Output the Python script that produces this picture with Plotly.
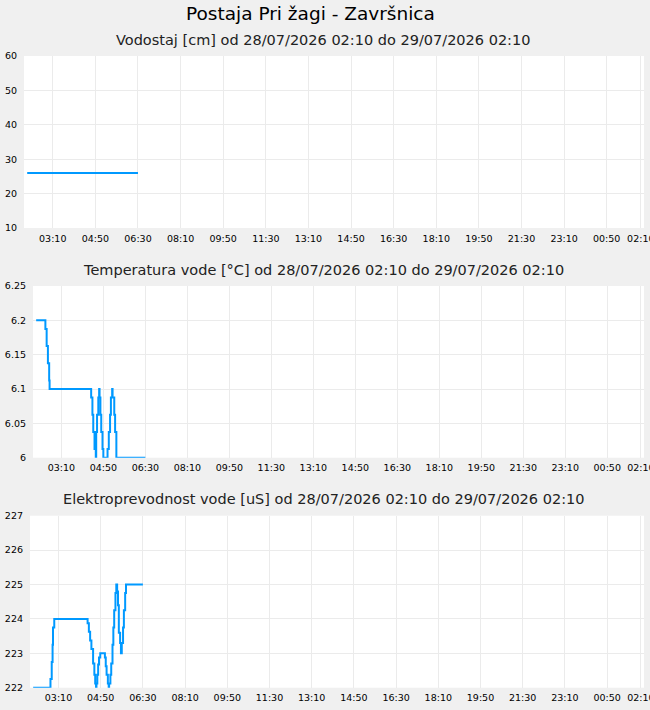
import plotly.graph_objects as go
import pandas as pd

DAY = "2026-07-28 "

# --- Vodostaj [cm]
level_times = ["02:10", "06:30"]
level_values = [26, 26]

# --- Temperatura vode [°C]
temp_times = ["02:10", "02:32", "02:35", "02:38", "02:41", "02:42",
              "04:21", "04:24", "04:26", "04:29", "04:32", "04:33", "04:35", "04:38", "04:40",
              "04:41", "04:43", "04:45", "04:48", "04:50",
              "05:00", "05:03", "05:06", "05:08", "05:11", "05:12", "05:16", "05:18", "05:21",
              "06:30"]
temp_values = [6.2, 6.1875, 6.1625, 6.1375, 6.1125, 6.1,
               6.0875, 6.0625, 6.0375, 6.0125, 6.0, 6.0375, 6.0625, 6.0875, 6.1,
               6.0875, 6.0625, 6.0375, 6.0125, 6.0,
               6.0125, 6.0375, 6.0625, 6.0875, 6.1, 6.0875, 6.0625, 6.0375, 6.0,
               6.0]

# --- Elektroprevodnost vode [uS]
cond_times = ["02:10", "02:51", "02:54", "02:56", "02:57", "03:00",
              "04:19", "04:22", "04:25", "04:28", "04:32", "04:35", "04:37", "04:39",
              "04:40", "04:42", "04:44", "04:46", "04:49",
              "05:00", "05:02", "05:04", "05:07", "05:09", "05:10", "05:13", "05:15",
              "05:18", "05:20", "05:22", "05:25", "05:27", "05:29", "05:31", "05:33",
              "05:36", "05:38", "05:40", "05:43", "05:45", "05:48", "05:50", "06:30"]
cond_values = [222, 222.25, 222.75, 223.25, 223.75, 224,
               223.875, 223.625, 223.375, 223.125, 222.7, 222.375, 222.125, 222.0,
               222.125, 222.375, 222.675, 222.875, 223.0,
               222.875, 222.625, 222.375, 222.125, 222.0, 222.125, 222.375, 222.7,
               223.25, 223.75, 224.25, 224.75, 225.0, 224.8, 224.4, 223.6,
               223.3, 223.0, 223.3, 223.75, 224.25, 224.75, 225.0, 225.0]

tick_times = ["2026-07-28 03:10", "2026-07-28 04:50", "2026-07-28 06:30", "2026-07-28 08:10",
              "2026-07-28 09:50", "2026-07-28 11:30", "2026-07-28 13:10", "2026-07-28 14:50",
              "2026-07-28 16:30", "2026-07-28 18:10", "2026-07-28 19:50", "2026-07-28 21:30",
              "2026-07-28 23:10", "2026-07-29 00:50", "2026-07-29 02:10"]
tick_labels = ["03:10", "04:50", "06:30", "08:10", "09:50", "11:30", "13:10", "14:50",
               "16:30", "18:10", "19:50", "21:30", "23:10", "00:50", "02:10"]

title = "Postaja Pri žagi - Završnica"
subtitles = ["Vodostaj [cm] od 28/07/2026 02:10 do 29/07/2026 02:10",
             "Temperatura vode [°C] od 28/07/2026 02:10 do 29/07/2026 02:10",
             "Elektroprevodnost vode [uS] od 28/07/2026 02:10 do 29/07/2026 02:10"]

W, H = 650, 710
FONT = "DejaVu Sans"
LINE = "#0099ff"
GRID = "#ebebeb"

def t(lst):
    return pd.to_datetime([DAY + s for s in lst])

x_range = [pd.Timestamp("2026-07-28 02:02:30"), pd.Timestamp("2026-07-29 02:17:30")]

fig = go.Figure()
series = [(level_times, level_values), (temp_times, temp_values), (cond_times, cond_values)]
for i, (tt, vv) in enumerate(series):
    sfx = "" if i == 0 else str(i + 1)
    fig.add_trace(go.Scatter(x=t(tt), y=vv, mode="lines", line=dict(color=LINE, width=2, shape="hv"),
                             xaxis="x" + sfx, yaxis="y" + sfx, showlegend=False, hoverinfo="skip"))

# pixel layout
lefts = [24, 33, 30]
right = 644
tops = [56, 286, 515.7]
bottoms = [228, 457.7, 687.7]
yranges = [[10, 60], [6, 6.25], [222, 227]]
dticks = [10, 0.05, 1]

layout = dict(width=W, height=H, margin=dict(l=0, r=0, t=0, b=0, pad=0, autoexpand=False),
              paper_bgcolor="#f0f0f0", plot_bgcolor="#ffffff",
              font=dict(family=FONT, size=10, color="#000"))
for i in range(3):
    sfx = "" if i == 0 else str(i + 1)
    layout["xaxis" + sfx] = dict(domain=[lefts[i] / W, right / W], anchor="y" + sfx, type="date",
                                 range=x_range, tickvals=pd.to_datetime(tick_times), ticktext=tick_labels,
                                 showgrid=True, gridcolor=GRID, gridwidth=1, zeroline=False,
                                 showline=False, ticks="", ticklabelstandoff=3,
                                 ticklabeloverflow="allow", automargin=False,
                                 tickfont=dict(family=FONT, size=9.5, color="#000"), fixedrange=True)
    layout["yaxis" + sfx] = dict(domain=[1 - bottoms[i] / H, 1 - tops[i] / H], anchor="x" + sfx,
                                 range=yranges[i], dtick=dticks[i], tick0=yranges[i][0],
                                 showgrid=True, gridcolor=GRID, gridwidth=1, zeroline=False,
                                 showline=False, ticks="", ticklabelstandoff=6, automargin=False,
                                 tickfont=dict(family=FONT, size=9.5, color="#000"), fixedrange=True)

fig.update_layout(**layout)

fig.add_annotation(text=title, x=310 / W, y=1 - 14 / H, xref="paper", yref="paper",
                   showarrow=False, xanchor="center", yanchor="middle",
                   font=dict(family=FONT, size=18.5, color="#000"))
sub_y = [40, 270, 499]
for s, yy in zip(subtitles, sub_y):
    fig.add_annotation(text=s, x=323 / W, y=1 - yy / H, xref="paper", yref="paper",
                       showarrow=False, xanchor="center", yanchor="middle",
                       font=dict(family=FONT, size=14.5, color="#222"))

fig.write_html("out.html")
